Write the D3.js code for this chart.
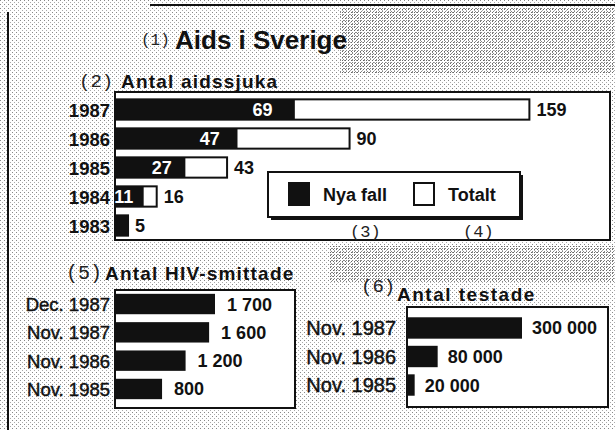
<!DOCTYPE html>
<html>
<head>
<meta charset="utf-8">
<script src="https://cdn.jsdelivr.net/npm/d3@7"></script>
<style>
  body { margin: 0; background: #fff; }
  svg { display: block; }
  .lab { font-family: "Liberation Sans", Arial, sans-serif; font-weight: bold; fill: #111; }
  .reg { font-family: "Liberation Sans", Arial, sans-serif; font-weight: normal; fill: #111; stroke: #111; stroke-width: 0.45px; }
  .num { font-family: "Liberation Mono", "DejaVu Sans Mono", monospace; fill: #222; }
</style>
</head>
<body>
<svg id="chart" width="615" height="430"></svg>
<script>
// data
const years = ['1987', '1986', '1985', '1984', '1983'];
const newCases = [69, 47, 27, 11, 5];
const totalCases = [159, 90, 43, 16, 5];

const hivDates = ['Dec. 1987', 'Nov. 1987', 'Nov. 1986', 'Nov. 1985'];
const hivCounts = [1700, 1600, 1200, 800];
const hivLabels = ['1 700', '1 600', '1 200', '800'];

const testDates = ['Nov. 1987', 'Nov. 1986', 'Nov. 1985'];
const testCounts = [300000, 80000, 20000];
const testLabels = ['300 000', '80 000', '20 000'];

const legendItems = ['Nya fall', 'Totalt'];

const svg = d3.select('#chart');

// halftone background
let defs = svg.append('defs');
let pl = defs.append('pattern').attr('id', 'dotsLight')
  .attr('width', 4).attr('height', 4).attr('patternUnits', 'userSpaceOnUse');
pl.append('rect').attr('x', 0).attr('y', 0).attr('width', 1).attr('height', 1).attr('fill', '#888');
pl.append('rect').attr('x', 2).attr('y', 2).attr('width', 1).attr('height', 1).attr('fill', '#aaa');
let pd = defs.append('pattern').attr('id', 'dotsDark')
  .attr('width', 3).attr('height', 3).attr('patternUnits', 'userSpaceOnUse');
pd.append('rect').attr('x', 0).attr('y', 0).attr('width', 1).attr('height', 1).attr('fill', '#666');
pd.append('rect').attr('x', 1).attr('y', 2).attr('width', 1).attr('height', 1).attr('fill', '#888');

svg.append('rect').attr('width', 615).attr('height', 430).attr('fill', 'url(#dotsLight)');
svg.append('rect').attr('x', 340).attr('y', 8).attr('width', 275).attr('height', 66).attr('fill', 'url(#dotsDark)');
svg.append('rect').attr('x', 330).attr('y', 246).attr('width', 285).attr('height', 36).attr('fill', 'url(#dotsDark)');

// frame
svg.append('line').attr('x1', 8).attr('x2', 8).attr('y1', 12).attr('y2', 430)
  .attr('stroke', '#111').attr('stroke-width', 2);
svg.append('line').attr('x1', 150).attr('x2', 615).attr('y1', 5).attr('y2', 5)
  .attr('stroke', '#111').attr('stroke-width', 2);

// title
svg.append('text').attr('class', 'num').attr('x', 141).attr('y', 45)
  .style('font-size', '16px').text('(1)');
svg.append('text').attr('class', 'lab').attr('x', 175).attr('y', 49)
  .style('font-size', '26px').text('Aids i Sverige');

// ---------- panel 2: Antal aidssjuka ----------
svg.append('text').attr('class', 'num').attr('x', 79).attr('y', 87)
  .style('font-size', '19px').text('(2)');
svg.append('text').attr('class', 'lab').attr('x', 121).attr('y', 88)
  .style('font-size', '19px').style('letter-spacing', '1.2px').text('Antal aidssjuka');

svg.append('rect').attr('x', 115).attr('y', 92).attr('width', 495).attr('height', 148)
  .attr('fill', '#fff').attr('stroke', '#111').attr('stroke-width', 2);

const x2 = d3.scaleLinear().domain([0, 160]).range([115, 532]);
const y2 = d3.scaleBand().domain(years).range([95, 240]).paddingInner(0.3).paddingOuter(0.15);

const rows2 = years.map((y, i) => ({ year: y, nya: newCases[i], tot: totalCases[i] }));

svg.selectAll('.tot').data(rows2).enter().append('rect')
  .attr('class', 'tot')
  .attr('x', x2(0)).attr('y', d => y2(d.year))
  .attr('width', d => x2(d.tot) - x2(0)).attr('height', y2.bandwidth())
  .attr('fill', '#fff').attr('stroke', '#111').attr('stroke-width', 2);

svg.selectAll('.nya').data(rows2).enter().append('rect')
  .attr('class', 'nya')
  .attr('x', x2(0)).attr('y', d => y2(d.year))
  .attr('width', d => x2(d.nya) - x2(0)).attr('height', y2.bandwidth())
  .attr('fill', '#111');

svg.selectAll('.nyaLab').data(rows2.filter(d => d.nya !== d.tot)).enter().append('text')
  .attr('class', 'lab')
  .attr('x', d => x2(d.nya) - 8 - 0.08 * (x2(d.nya) - x2(0)))
  .attr('y', d => y2(d.year) + y2.bandwidth() / 2 + 6.5)
  .attr('text-anchor', 'end')
  .style('font-size', '18px').style('fill', '#fff')
  .text(d => d.nya);

svg.selectAll('.totLab').data(rows2).enter().append('text')
  .attr('class', 'lab')
  .attr('x', d => x2(d.tot) + 7)
  .attr('y', d => y2(d.year) + y2.bandwidth() / 2 + 6.5)
  .style('font-size', '18px')
  .text(d => d.tot);

svg.selectAll('.yearLab').data(years).enter().append('text')
  .attr('class', 'lab')
  .attr('x', 110)
  .attr('y', d => y2(d) + y2.bandwidth() / 2 + 7)
  .attr('text-anchor', 'end')
  .style('font-size', '18.5px')
  .text(d => d);

// legend
svg.append('rect').attr('x', 271).attr('y', 175).attr('width', 252).attr('height', 45).attr('fill', '#111');
svg.append('rect').attr('x', 268).attr('y', 172).attr('width', 252).attr('height', 45)
  .attr('fill', '#fff').attr('stroke', '#111').attr('stroke-width', 2);
const legX = [289, 414];
svg.selectAll('.legBox').data(legendItems).enter().append('rect')
  .attr('x', (d, i) => legX[i]).attr('y', 183)
  .attr('width', 20).attr('height', 22)
  .attr('fill', (d, i) => i === 0 ? '#111' : '#fff')
  .attr('stroke', '#111').attr('stroke-width', 2);
svg.selectAll('.legLab').data(legendItems).enter().append('text')
  .attr('class', 'lab')
  .attr('x', (d, i) => legX[i] + 34).attr('y', 201)
  .style('font-size', '18px')
  .text(d => d);
svg.selectAll('.legNum').data(['(3)', '(4)']).enter().append('text')
  .attr('class', 'num')
  .attr('x', (d, i) => [350, 463][i]).attr('y', 237)
  .style('font-size', '17px')
  .text(d => d);

// ---------- panel 5: Antal HIV-smittade ----------
svg.append('text').attr('class', 'num').attr('x', 66).attr('y', 279)
  .style('font-size', '20px').text('(5)');
svg.append('text').attr('class', 'lab').attr('x', 105).attr('y', 280)
  .style('font-size', '19px').style('letter-spacing', '1.2px').text('Antal HIV-smittade');

svg.append('rect').attr('x', 115).attr('y', 290).attr('width', 180).attr('height', 118)
  .attr('fill', '#fff').attr('stroke', '#111').attr('stroke-width', 2);

const x5 = d3.scaleLinear().domain([0, 1700]).range([115, 215]);
const y5 = d3.scaleBand().domain(hivDates).range([291, 402]).paddingInner(0.28).paddingOuter(0.1);

svg.selectAll('.hiv').data(hivDates).enter().append('rect')
  .attr('x', x5(0)).attr('y', d => y5(d))
  .attr('width', (d, i) => x5(hivCounts[i]) - x5(0)).attr('height', y5.bandwidth())
  .attr('fill', '#111');
svg.selectAll('.hivLab').data(hivDates).enter().append('text')
  .attr('class', 'lab')
  .attr('x', (d, i) => x5(hivCounts[i]) + 12)
  .attr('y', d => y5(d) + y5.bandwidth() / 2 + 6.5)
  .style('font-size', '18px')
  .text((d, i) => hivLabels[i]);
svg.selectAll('.hivCat').data(hivDates).enter().append('text')
  .attr('class', 'reg')
  .attr('x', 110)
  .attr('y', d => y5(d) + y5.bandwidth() / 2 + 7)
  .attr('text-anchor', 'end')
  .style('font-size', '18.5px')
  .text(d => d);

// ---------- panel 6: Antal testade ----------
svg.append('text').attr('class', 'num').attr('x', 361).attr('y', 292)
  .style('font-size', '19px').text('(6)');
svg.append('text').attr('class', 'lab').attr('x', 397).attr('y', 301)
  .style('font-size', '19px').style('letter-spacing', '1.5px').text('Antal testade');

svg.append('rect').attr('x', 407).attr('y', 307).attr('width', 201).attr('height', 100)
  .attr('fill', '#fff').attr('stroke', '#111').attr('stroke-width', 2);

const x6 = d3.scaleLinear().domain([0, 300000]).range([407, 522]);
const y6 = d3.scaleBand().domain(testDates).range([313, 400]).paddingInner(0.25).paddingOuter(0.15);

svg.selectAll('.test').data(testDates).enter().append('rect')
  .attr('x', x6(0)).attr('y', d => y6(d))
  .attr('width', (d, i) => Math.max(x6(testCounts[i]) - x6(0), 3)).attr('height', y6.bandwidth())
  .attr('fill', '#111');
svg.selectAll('.testLab').data(testDates).enter().append('text')
  .attr('class', 'lab')
  .attr('x', (d, i) => x6(testCounts[i]) + 10)
  .attr('y', d => y6(d) + y6.bandwidth() / 2 + 6.5)
  .style('font-size', '18px')
  .text((d, i) => testLabels[i]);
svg.selectAll('.testCat').data(testDates).enter().append('text')
  .attr('class', 'reg')
  .attr('x', 396)
  .attr('y', d => y6(d) + y6.bandwidth() / 2 + 7)
  .attr('text-anchor', 'end')
  .style('font-size', '20px')
  .text(d => d);
</script>
</body>
</html>
